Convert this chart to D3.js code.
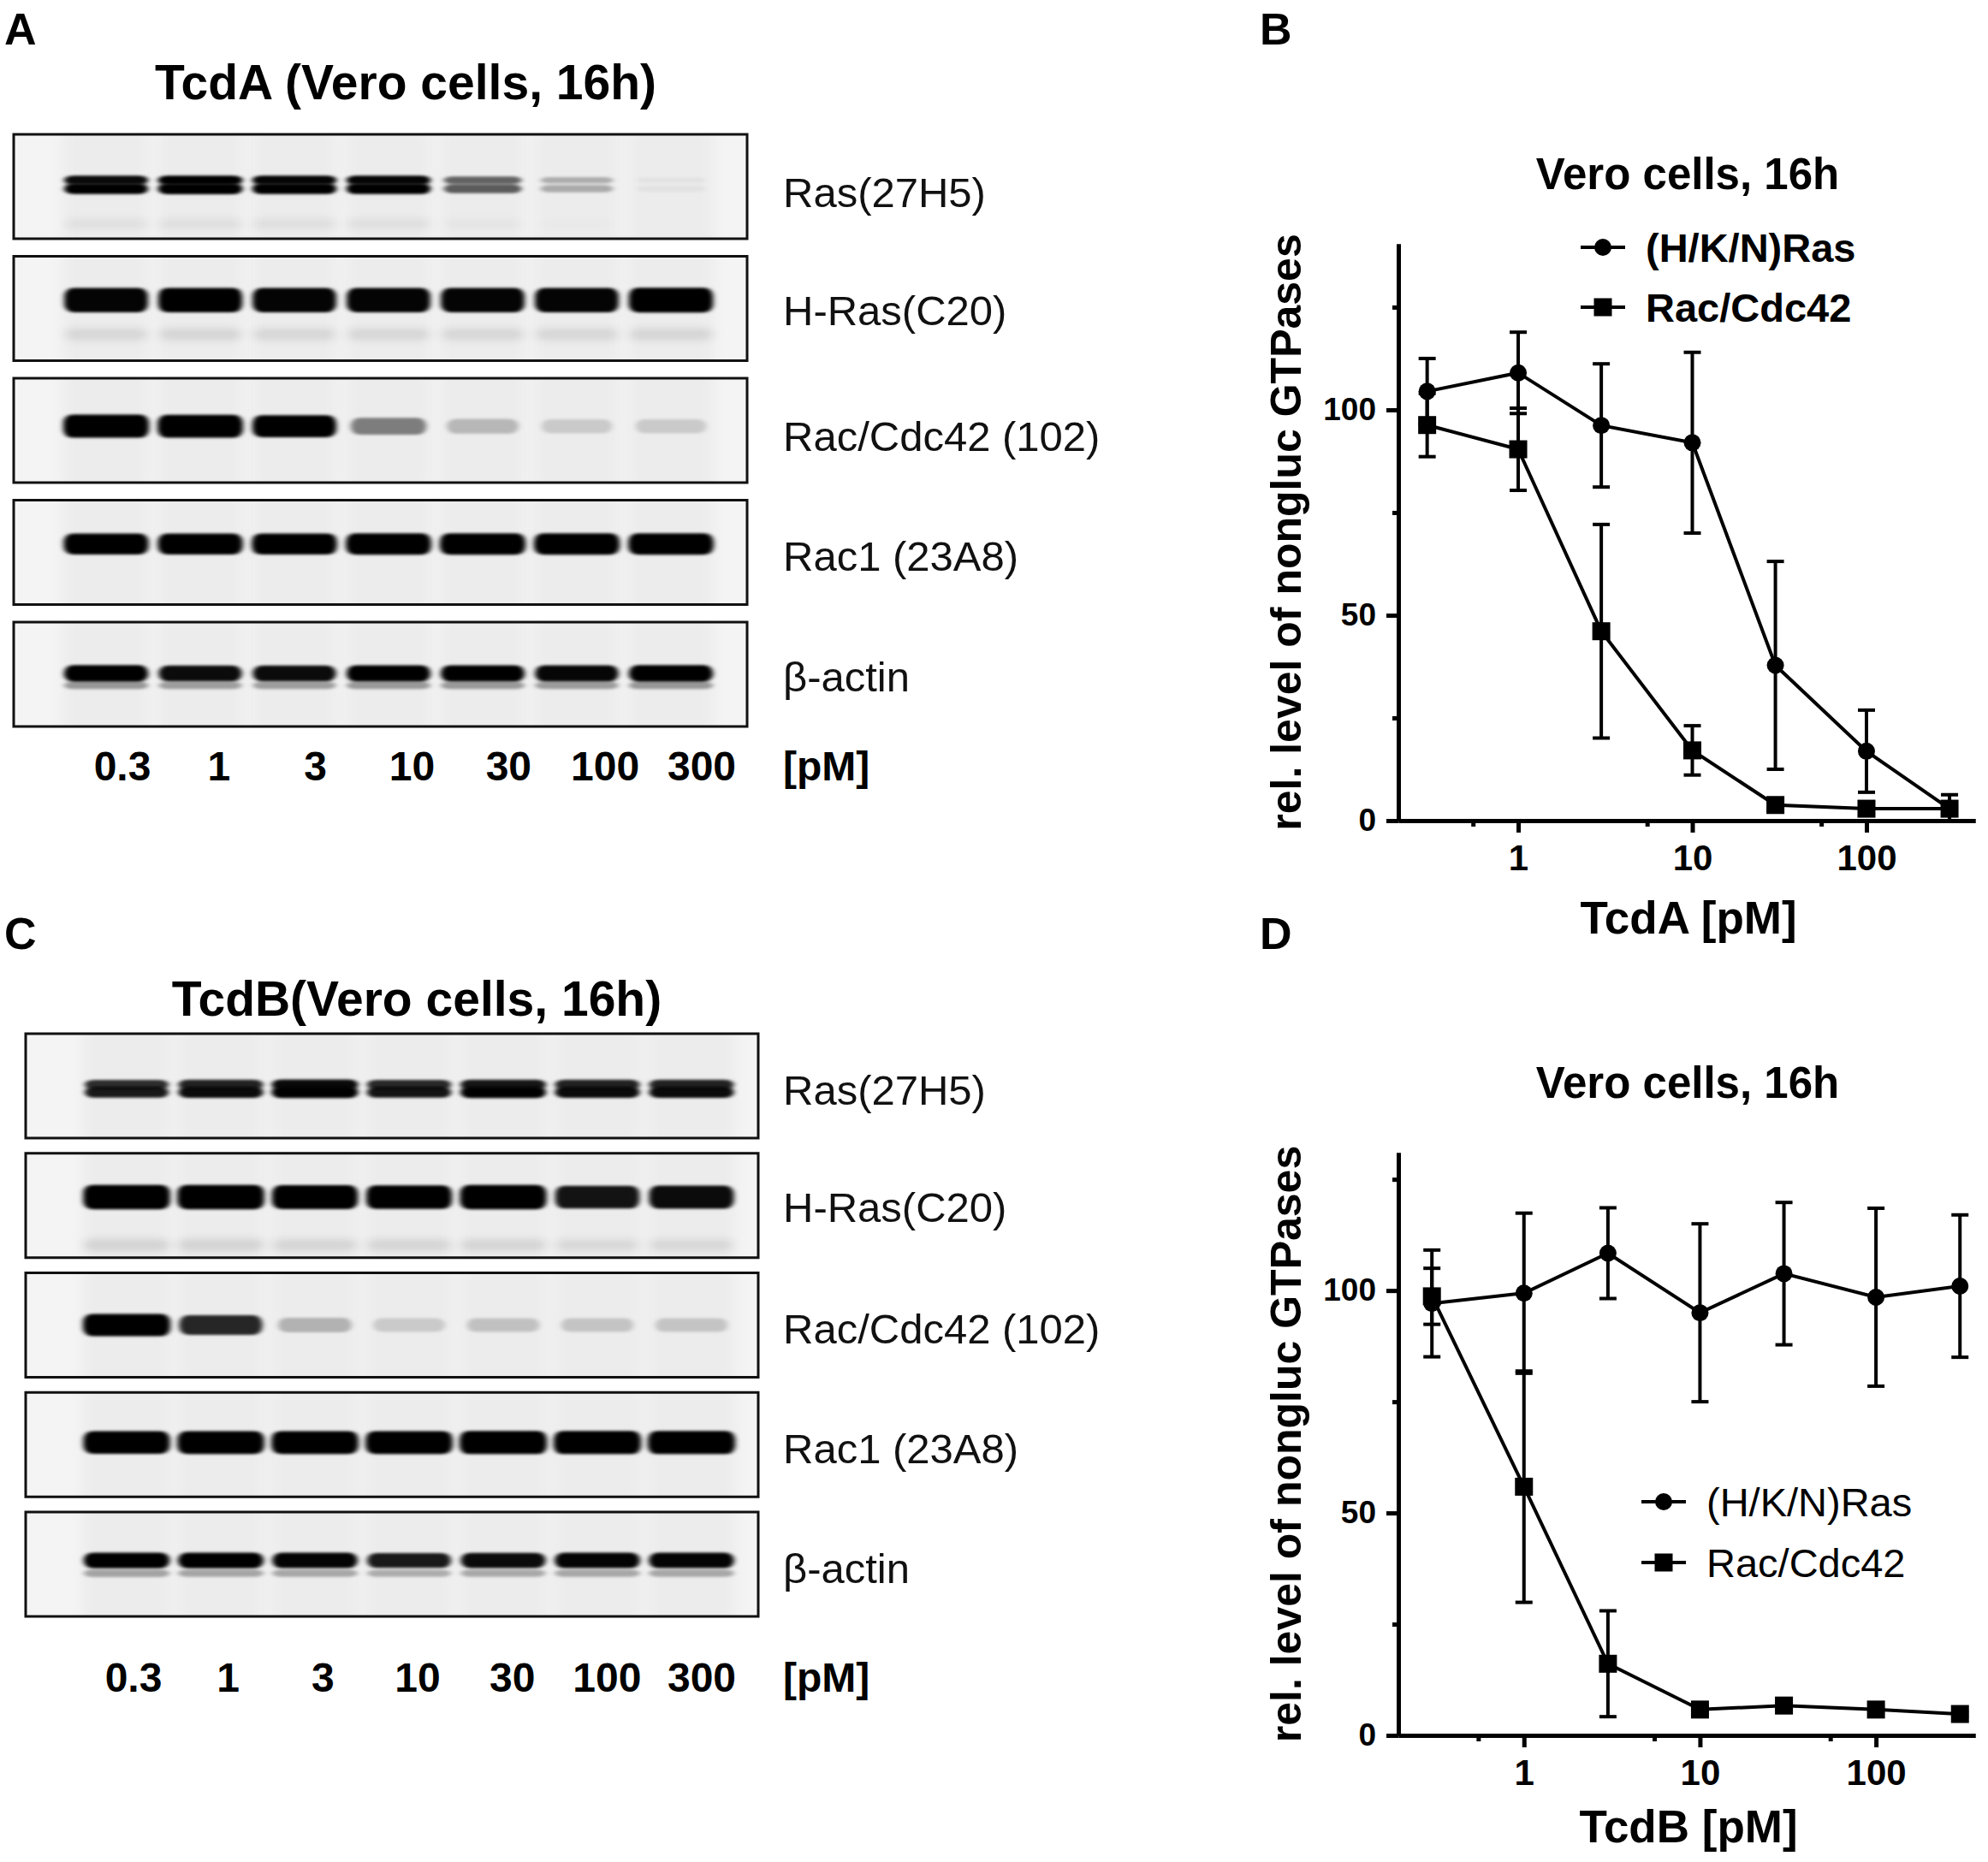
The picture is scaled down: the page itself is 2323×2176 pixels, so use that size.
<!DOCTYPE html>
<html>
<head>
<meta charset="utf-8">
<script src="https://cdn.jsdelivr.net/npm/d3@7"></script>
<style>
  body { margin: 0; background: #fff; }
  svg { display: block; }
</style>
</head>
<body>
<script>
// ---- data ----
var lanes = ["0.3", "1", "3", "10", "30", "100", "300"];
var blotLabels = ["Ras(27H5)", "H-Ras(C20)", "Rac/Cdc42 (102)", "Rac1 (23A8)", "β-actin"];

// band darkness per lane (0 = none, 1 = saturated), one row per antibody
var tcdaBands = [
    [0.9, 0.95, 0.92, 0.92, 0.55, 0.25, 0.04],
    [0.88, 0.9, 0.88, 0.88, 0.88, 0.88, 0.92],
    [1.0, 0.98, 0.9, 0.42, 0.2, 0.13, 0.13],
    [0.95, 0.95, 0.97, 0.98, 1.0, 1.0, 0.98],
    [0.92, 0.85, 0.85, 0.9, 0.9, 0.87, 0.92]
];
var tcdbBands = [
    [0.8, 0.85, 0.95, 0.82, 0.9, 0.85, 0.85],
    [0.97, 0.97, 0.92, 0.9, 0.95, 0.82, 0.85],
    [1.0, 0.75, 0.22, 0.13, 0.16, 0.15, 0.15],
    [0.95, 0.97, 0.98, 0.98, 1.0, 1.0, 1.0],
    [0.92, 0.9, 0.88, 0.8, 0.85, 0.88, 0.88]
];

var doses = [0.3, 1, 3, 10, 30, 100, 300];
var seriesNames = ["(H/K/N)Ras", "Rac/Cdc42"];

var tcdaRas = [104.5, 109, 96.2, 92, 37.8, 16.9, 2.9];
var tcdaRasErr = [8, 9.9, 15, 22, 25.3, 10, 3.4];
var tcdaRac = [96.3, 90.4, 46.1, 17.1, 3.8, 2.9, 2.9];
var tcdaRacErr = [7.7, 10, 26, 6, 1, 0.5, 0.5];

var tcdbRas = [97.1, 99.4, 108.4, 95, 103.8, 98.5, 101];
var tcdbRasErr = [12, 18, 10.2, 20, 16, 20, 16];
var tcdbRac = [98.7, 55.9, 16.1, 5.8, 6.7, 5.8, 4.8];
var tcdbRacErr = [6.3, 26, 11.9, 0.8, 0.8, 0.5, 0.5];

var xTicks = [1, 10, 100];
var xMinorTicks = [0.55, 5.5, 55];
var yTicks = [0, 50, 100];
var yMinorTicks = [25, 75, 125];

// ---- page ----
var W = 2323, H = 2176;
var FONT = "'Liberation Sans', Arial, Helvetica, sans-serif";

var svg = d3.select("body").append("svg")
    .attr("width", W)
    .attr("height", H)
    .attr("viewBox", "0 0 " + W + " " + H)
    .style("font-family", FONT);

svg.append("rect").attr("width", W).attr("height", H).attr("fill", "#fff");

var defs = svg.append("defs");
defs.append("filter")
    .attr("id", "bandBlur")
    .attr("x", "-30%").attr("y", "-100%")
    .attr("width", "160%").attr("height", "300%")
    .append("feGaussianBlur")
    .attr("stdDeviation", "3 1.6");
defs.append("filter")
    .attr("id", "faintBlur")
    .attr("x", "-30%").attr("y", "-150%")
    .attr("width", "160%").attr("height", "400%")
    .append("feGaussianBlur")
    .attr("stdDeviation", "6 4");
defs.append("filter")
    .attr("id", "laneBlur")
    .attr("x", "-30%").attr("y", "-10%")
    .attr("width", "160%").attr("height", "120%")
    .append("feGaussianBlur")
    .attr("stdDeviation", "8 4");

// vertical placement / shape of the bands inside each strip (style only)
var stylesA = [
    [{dy: -5, h: 11, k: 0.95}, {dy: 5, h: 13, k: 1}, {dy: 46, h: 12, k: 0.06}],
    [{dy: 0, h: 30, k: 1}, {dy: 40, h: 14, k: 0.1}],
    [{dy: 0, h: 27, k: 1}],
    [{dy: 0, h: 25, k: 1}],
    [{dy: -1, h: 20, k: 1}, {dy: 13, h: 9, k: 0.35}]
];
var stylesC = [
    [{dy: -4, h: 12, k: 0.9}, {dy: 5, h: 14, k: 1}],
    [{dy: 0, h: 29, k: 1}, {dy: 56, h: 14, k: 0.1}],
    [{dy: 0, h: 26, k: 1}],
    [{dy: 0, h: 27, k: 1}],
    [{dy: -2, h: 19, k: 1}, {dy: 13, h: 9, k: 0.3}]
];

function panelLetter(txt, x, y) {
    svg.append("text")
        .attr("x", x).attr("y", y)
        .attr("font-size", 52)
        .attr("font-weight", "bold")
        .text(txt);
}

function drawBlot(cfg) {
    var g = svg.append("g");
    var rows = d3.scaleBand()
        .domain(blotLabels)
        .range([cfg.top, cfg.bottom])
        .paddingInner(cfg.gap);
    var laneX = d3.scalePoint().domain(lanes).range(cfg.bandRange);
    var labelX = d3.scalePoint().domain(lanes).range(cfg.labelRange);

    g.append("text")
        .attr("x", cfg.titleX).attr("y", cfg.titleY)
        .attr("text-anchor", "middle")
        .attr("font-size", 57)
        .attr("font-weight", "bold")
        .text(cfg.title);

    blotLabels.forEach(function (label, i) {
        var y0 = rows(label);
        var h = rows.bandwidth();
        var cy = y0 + h * cfg.bandPos[i];
        var row = g.append("g");
        var clipId = cfg.id + "clip" + i;

        defs.append("clipPath").attr("id", clipId)
            .append("rect")
            .attr("x", cfg.left).attr("y", y0)
            .attr("width", cfg.right - cfg.left).attr("height", h);

        row.append("rect")
            .attr("x", cfg.left).attr("y", y0)
            .attr("width", cfg.right - cfg.left).attr("height", h)
            .attr("fill", "#f4f4f4");

        // faint lane smear
        row.append("g").attr("clip-path", "url(#" + clipId + ")")
            .selectAll("rect")
            .data(lanes)
            .enter().append("rect")
            .attr("x", function (d) { return laneX(d) - cfg.bandW / 2; })
            .attr("y", y0 - 10)
            .attr("width", cfg.bandW)
            .attr("height", h + 20)
            .attr("fill", "#000")
            .attr("fill-opacity", 0.03)
            .attr("filter", "url(#laneBlur)");

        var pieces = [];
        cfg.bands[i].forEach(function (v, j) {
            cfg.styles[i].forEach(function (p) {
                pieces.push({lane: lanes[j], v: v, p: p});
            });
        });

        var bw = function (d) { return cfg.bandW * (0.8 + 0.2 * d.v); };
        var bh = function (d) { return d.p.h * (0.55 + 0.45 * d.v); };

        row.append("g").attr("clip-path", "url(#" + clipId + ")")
            .selectAll("rect.band")
            .data(pieces)
            .enter().append("rect")
            .attr("class", "band")
            .attr("x", function (d) { return laneX(d.lane) - bw(d) / 2; })
            .attr("y", function (d) { return cy + d.p.dy - bh(d) / 2; })
            .attr("width", bw)
            .attr("height", bh)
            .attr("rx", 10)
            .attr("fill", "#060606")
            .attr("fill-opacity", function (d) { return Math.min(1, d.v * d.p.k * 1.12); })
            .attr("filter", function (d) {
                return d.p.k < 0.2 ? "url(#faintBlur)" : "url(#bandBlur)";
            });

        row.append("rect")
            .attr("x", cfg.left).attr("y", y0)
            .attr("width", cfg.right - cfg.left).attr("height", h)
            .attr("fill", "none")
            .attr("stroke", "#111")
            .attr("stroke-width", 3);

        row.append("text")
            .attr("x", cfg.labelLeft)
            .attr("y", y0 + h / 2 + cfg.labelShift[i])
            .attr("dy", "0.36em")
            .attr("font-size", 49)
            .attr("fill", "#111")
            .text(label);
    });

    g.selectAll("text.lane")
        .data(lanes)
        .enter().append("text")
        .attr("class", "lane")
        .attr("x", function (d) { return labelX(d); })
        .attr("y", cfg.laneY)
        .attr("text-anchor", "middle")
        .attr("font-size", 48)
        .attr("font-weight", "bold")
        .text(function (d) { return d; });

    g.append("text")
        .attr("x", cfg.labelLeft)
        .attr("y", cfg.laneY)
        .attr("font-size", 48)
        .attr("font-weight", "bold")
        .text("[pM]");
}

function drawCurve(cfg) {
    var g = svg.append("g");
    var x = d3.scaleLog().domain(cfg.xDomain).range([cfg.left, cfg.right]);
    var y = d3.scaleLinear().domain([0, cfg.yMax]).range([cfg.bottom, cfg.top]);

    g.append("text")
        .attr("x", cfg.titleX).attr("y", cfg.titleY)
        .attr("text-anchor", "middle")
        .attr("font-size", 51)
        .attr("font-weight", "bold")
        .text(cfg.title);

    // axes
    var yAxis = d3.axisLeft(y).tickValues(yTicks).tickSize(14).tickSizeOuter(0)
        .tickPadding(12).tickFormat(d3.format("d"));
    var yMinor = d3.axisLeft(y).tickValues(yMinorTicks).tickSize(7).tickSizeOuter(0)
        .tickFormat("");
    var xAxis = d3.axisBottom(x).tickValues(xTicks).tickSize(14).tickSizeOuter(0)
        .tickPadding(14).tickFormat(d3.format("d"));
    var xMinor = d3.axisBottom(x).tickValues(xMinorTicks).tickSize(7).tickSizeOuter(0)
        .tickFormat("");

    var axes = [
        {g: g.append("g").attr("transform", "translate(" + cfg.left + ",0)").call(yMinor), fs: 37},
        {g: g.append("g").attr("transform", "translate(" + cfg.left + ",0)").call(yAxis), fs: 37},
        {g: g.append("g").attr("transform", "translate(0," + cfg.bottom + ")").call(xMinor), fs: 42},
        {g: g.append("g").attr("transform", "translate(0," + cfg.bottom + ")").call(xAxis), fs: 42}
    ];
    axes.forEach(function (a) {
        a.g.select(".domain").attr("stroke", "#000").attr("stroke-width", 5);
        a.g.selectAll(".tick line").attr("stroke", "#000").attr("stroke-width", 5);
        a.g.selectAll(".tick text")
            .attr("fill", "#000")
            .attr("font-family", FONT)
            .attr("font-size", a.fs)
            .attr("font-weight", "bold");
    });

    g.append("text")
        .attr("transform", "translate(" + cfg.yTitleX + "," + ((cfg.top + cfg.bottom) / 2) + ") rotate(-90)")
        .attr("text-anchor", "middle")
        .attr("font-size", 50)
        .attr("font-weight", "bold")
        .text("rel. level of nongluc GTPases");

    g.append("text")
        .attr("x", (cfg.left + cfg.right) / 2 + 2)
        .attr("y", cfg.xTitleY)
        .attr("text-anchor", "middle")
        .attr("font-size", 53)
        .attr("font-weight", "bold")
        .text(cfg.xTitle);

    var line = d3.line()
        .x(function (d) { return x(d.dose); })
        .y(function (d) { return y(d.v); });

    var series = [
        {name: seriesNames[0], values: cfg.ras, err: cfg.rasErr, shape: "circle"},
        {name: seriesNames[1], values: cfg.rac, err: cfg.racErr, shape: "square"}
    ];

    series.forEach(function (s) {
        var pts = doses.map(function (d, i) {
            return {dose: d, v: s.values[i], e: s.err[i]};
        });
        var sg = g.append("g");
        sg.append("path")
            .datum(pts)
            .attr("d", line)
            .attr("fill", "none")
            .attr("stroke", "#000")
            .attr("stroke-width", 4);

        var eb = sg.selectAll("g.err").data(pts).enter().append("g").attr("class", "err");
        eb.append("line")
            .attr("x1", function (d) { return x(d.dose); })
            .attr("x2", function (d) { return x(d.dose); })
            .attr("y1", function (d) { return y(Math.max(0, d.v - d.e)); })
            .attr("y2", function (d) { return y(d.v + d.e); });
        eb.append("line")
            .attr("x1", function (d) { return x(d.dose) - 10; })
            .attr("x2", function (d) { return x(d.dose) + 10; })
            .attr("y1", function (d) { return y(d.v + d.e); })
            .attr("y2", function (d) { return y(d.v + d.e); });
        eb.filter(function (d) { return d.v - d.e > 0; }).append("line")
            .attr("x1", function (d) { return x(d.dose) - 10; })
            .attr("x2", function (d) { return x(d.dose) + 10; })
            .attr("y1", function (d) { return y(d.v - d.e); })
            .attr("y2", function (d) { return y(d.v - d.e); });
        eb.selectAll("line").attr("stroke", "#000").attr("stroke-width", 4);

        drawMarkers(sg, pts, s.shape, function (d) { return x(d.dose); }, function (d) { return y(d.v); });
    });

    // legend
    series.forEach(function (s, i) {
        var ly = cfg.legendY + i * cfg.legendStep;
        var lg = g.append("g");
        lg.append("line")
            .attr("x1", cfg.legendX).attr("x2", cfg.legendX + 52)
            .attr("y1", ly).attr("y2", ly)
            .attr("stroke", "#000").attr("stroke-width", 4);
        drawMarkers(lg, [{}], s.shape, function () { return cfg.legendX + 26; }, function () { return ly; });
        lg.append("text")
            .attr("x", cfg.legendX + 76)
            .attr("y", ly)
            .attr("dy", "0.36em")
            .attr("font-size", 47)
            .attr("font-weight", cfg.legendBold ? "bold" : "normal")
            .text(s.name);
    });
}

function drawMarkers(sel, pts, shape, fx, fy) {
    if (shape === "circle") {
        sel.selectAll("circle.m").data(pts).enter().append("circle")
            .attr("class", "m")
            .attr("cx", fx).attr("cy", fy)
            .attr("r", 10)
            .attr("fill", "#000");
    } else {
        sel.selectAll("rect.m").data(pts).enter().append("rect")
            .attr("class", "m")
            .attr("x", function (d) { return fx(d) - 10.5; })
            .attr("y", function (d) { return fy(d) - 10.5; })
            .attr("width", 21).attr("height", 21)
            .attr("fill", "#000");
    }
}

// ---- panels ----
panelLetter("A", 5, 52);
panelLetter("B", 1472, 52);
panelLetter("C", 5, 1109);
panelLetter("D", 1472, 1109);

drawBlot({
    id: "a",
    title: "TcdA (Vero cells, 16h)", titleX: 474, titleY: 116,
    left: 16, right: 873, top: 157, bottom: 849, gap: 0.144,
    bandPos: [0.48, 0.42, 0.46, 0.42, 0.5],
    labelShift: [6, 2, 6, 4, 2],
    bandRange: [124, 784], bandW: 100,
    labelRange: [143, 820], labelLeft: 915, laneY: 912,
    bands: tcdaBands, styles: stylesA
});

drawBlot({
    id: "c",
    title: "TcdB(Vero cells, 16h)", titleX: 487, titleY: 1187,
    left: 30, right: 886, top: 1208, bottom: 1889, gap: 0.127,
    bandPos: [0.52, 0.42, 0.5, 0.48, 0.48],
    labelShift: [4, 2, 4, 4, 4],
    bandRange: [148, 808], bandW: 102,
    labelRange: [156, 820], labelLeft: 915, laneY: 1977,
    bands: tcdbBands, styles: stylesC
});

drawCurve({
    title: "Vero cells, 16h", titleX: 1972, titleY: 221,
    left: 1634, right: 2308, top: 285, bottom: 959,
    xDomain: [0.205, 421], yMax: 140.4,
    yTitleX: 1520, xTitle: "TcdA [pM]", xTitleY: 1091,
    ras: tcdaRas, rasErr: tcdaRasErr, rac: tcdaRac, racErr: tcdaRacErr,
    legendX: 1847, legendY: 289, legendStep: 70, legendBold: true
});

drawCurve({
    title: "Vero cells, 16h", titleX: 1972, titleY: 1283,
    left: 1634, right: 2308, top: 1347, bottom: 2028,
    xDomain: [0.1934, 366], yMax: 131,
    yTitleX: 1520, xTitle: "TcdB [pM]", xTitleY: 2153,
    ras: tcdbRas, rasErr: tcdbRasErr, rac: tcdbRac, racErr: tcdbRacErr,
    legendX: 1918, legendY: 1755, legendStep: 71, legendBold: false
});
</script>
</body>
</html>
